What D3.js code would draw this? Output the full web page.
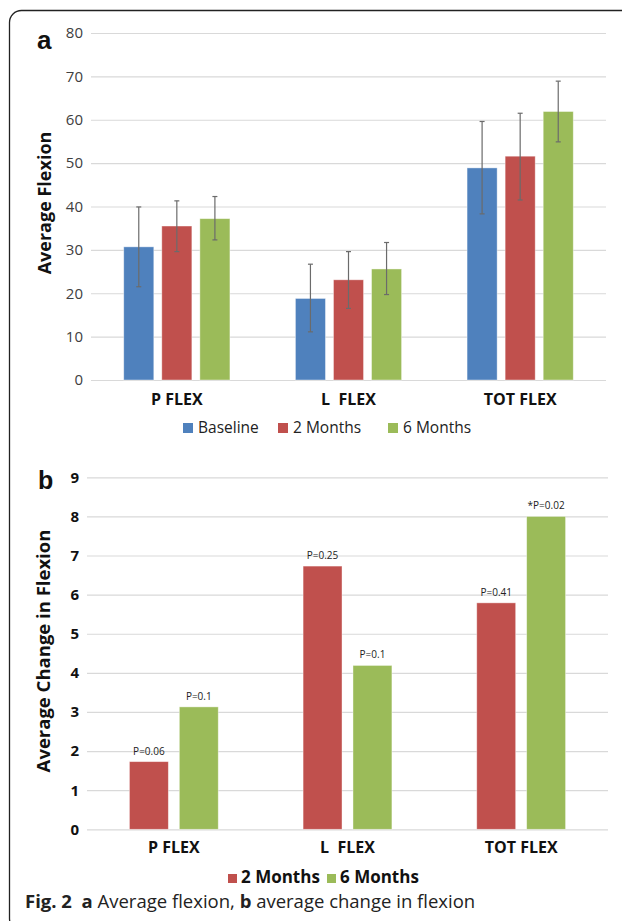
<!DOCTYPE html>
<html><head><meta charset="utf-8">
<script src="https://cdn.jsdelivr.net/npm/d3@7"></script>
<style>body{margin:0;background:#fff}svg{display:block}</style>
</head><body>
<svg id="c" width="622" height="921"></svg>
<script>
const categories = ["P FLEX", "L  FLEX", "TOT FLEX"];
const seriesA = ["Baseline", "2 Months", "6 Months"];
const meanA = {
  "Baseline": [30.7, 18.8, 48.9],
  "2 Months": [35.5, 23.1, 51.6],
  "6 Months": [37.2, 25.6, 61.9]
};
const errLowA = {
  "Baseline": [21.5, 11.1, 38.3],
  "2 Months": [29.6, 16.5, 41.5],
  "6 Months": [32.3, 19.7, 54.9]
};
const errHighA = {
  "Baseline": [39.9, 26.7, 59.6],
  "2 Months": [41.3, 29.6, 61.5],
  "6 Months": [42.3, 31.7, 68.9]
};
const ticksA = [0, 10, 20, 30, 40, 50, 60, 70, 80];
const seriesB = ["2 Months", "6 Months"];
const changeB = {
  "2 Months": [1.73, 6.73, 5.79],
  "6 Months": [3.13, 4.19, 8.0]
};
const pLabelsB = {
  "2 Months": ["P=0.06", "P=0.25", "P=0.41"],
  "6 Months": ["P=0.1", "P=0.1", "*P=0.02"]
};
const ticksB = [0, 1, 2, 3, 4, 5, 6, 7, 8, 9];
const colors = {"Baseline": "#4F81BD", "2 Months": "#C0504D", "6 Months": "#9BBB59"};

const svg = d3.select("#c");
const F = "'Open Sans', sans-serif";

// frame
svg.append("rect").attr("x", 9.5).attr("y", 10.5).attr("width", 700).attr("height", 920)
  .attr("rx", 12).attr("fill", "none").attr("stroke", "#222").attr("stroke-width", 1.3);

// ---------- Chart a ----------
{
  const x = d3.scaleBand().domain(categories).range([91, 606]);
  const y = d3.scaleLinear().domain([0, 80]).range([380, 33]);
  const xs = d3.scaleBand().domain(seriesA).range([0, x.bandwidth()]).paddingInner(0.21).paddingOuter(0.86);
  const g = svg.append("g");
  const yAxis = d3.axisLeft(y).tickValues(ticksA).tickSize(-(606 - 91)).tickPadding(8);
  const ga = g.append("g").attr("transform", "translate(91,0)").call(yAxis);
  ga.select(".domain").remove();
  ga.selectAll(".tick line").attr("stroke", "#D9D9D9").attr("stroke-width", 1.2);
  ga.selectAll(".tick text").attr("font-family", F).attr("font-size", 15).attr("fill", "#404040");

  seriesA.forEach(s => {
    categories.forEach((c, i) => {
      const bx = x(c) + xs(s);
      g.append("rect").attr("x", bx).attr("y", y(meanA[s][i]))
        .attr("width", xs.bandwidth()).attr("height", y(0) - y(meanA[s][i]))
        .attr("fill", colors[s]).attr("stroke", "#fff").attr("stroke-opacity", 0.5).attr("stroke-width", 0.8);
    });
  });
  seriesA.forEach(s => {
    categories.forEach((c, i) => {
      const cx = x(c) + xs(s) + xs.bandwidth() / 2;
      const eg = g.append("g").attr("stroke", "#6b6b6b").attr("stroke-width", 1.2);
      eg.append("line").attr("x1", cx).attr("x2", cx).attr("y1", y(errLowA[s][i])).attr("y2", y(errHighA[s][i]));
      [errLowA[s][i], errHighA[s][i]].forEach(v =>
        eg.append("line").attr("x1", cx - 2.5).attr("x2", cx + 2.5).attr("y1", y(v)).attr("y2", y(v)));
    });
  });
  categories.forEach(c => {
    g.append("text").attr("x", x(c) + x.bandwidth() / 2).attr("y", 405).attr("text-anchor", "middle")
      .attr("font-family", F).attr("font-weight", "bold").attr("font-size", 16).attr("fill", "#111")
      .attr("xml:space", "preserve").style("white-space", "pre").text(c);
  });
  // legend
  const lx = [183, 278, 388];
  seriesA.forEach((s, i) => {
    g.append("rect").attr("x", lx[i]).attr("y", 423).attr("width", 10).attr("height", 10).attr("fill", colors[s]);
    g.append("text").attr("x", lx[i] + 15).attr("y", 433).attr("font-family", F).attr("font-size", 15.5)
      .attr("fill", "#222").text(s);
  });
  g.append("text").attr("transform", "translate(51,203) rotate(-90)").attr("text-anchor", "middle")
    .attr("font-family", F).attr("font-weight", "bold").attr("font-size", 18).attr("fill", "#111").text("Average Flexion");
  g.append("text").attr("x", 37).attr("y", 49).attr("font-family", "'Liberation Sans', Arial, sans-serif")
    .attr("font-weight", "bold").attr("font-size", 26).attr("fill", "#111").text("a");
}

// ---------- Chart b ----------
{
  const x = d3.scaleBand().domain(categories).range([87, 608]);
  const y = d3.scaleLinear().domain([0, 9]).range([829.3, 477.3]);
  const xs = d3.scaleBand().domain(seriesB).range([0, x.bandwidth()]).paddingInner(0.22).paddingOuter(0.85);
  const g = svg.append("g");
  const yAxis = d3.axisLeft(y).tickValues(ticksB).tickSize(-(608 - 87)).tickPadding(8);
  const ga = g.append("g").attr("transform", "translate(87,0)").call(yAxis);
  ga.select(".domain").remove();
  ga.selectAll(".tick line").attr("stroke", "#D9D9D9").attr("stroke-width", 1.2);
  ga.selectAll(".tick text").attr("font-family", F).attr("font-weight", "bold").attr("font-size", 15).attr("fill", "#111");

  seriesB.forEach(s => {
    categories.forEach((c, i) => {
      const bx = x(c) + xs(s);
      g.append("rect").attr("x", bx).attr("y", y(changeB[s][i]))
        .attr("width", xs.bandwidth()).attr("height", y(0) - y(changeB[s][i]))
        .attr("fill", colors[s]).attr("stroke", "#fff").attr("stroke-opacity", 0.5).attr("stroke-width", 0.8);
      g.append("text").attr("x", bx + xs.bandwidth() / 2).attr("y", y(changeB[s][i]) - 7)
        .attr("text-anchor", "middle").attr("font-family", F).attr("font-size", 10).attr("fill", "#222")
        .text(pLabelsB[s][i]);
    });
  });
  categories.forEach(c => {
    g.append("text").attr("x", x(c) + x.bandwidth() / 2).attr("y", 853).attr("text-anchor", "middle")
      .attr("font-family", F).attr("font-weight", "bold").attr("font-size", 16).attr("fill", "#111")
      .attr("xml:space", "preserve").style("white-space", "pre").text(c);
  });
  const lx = [228, 327];
  seriesB.forEach((s, i) => {
    g.append("rect").attr("x", lx[i]).attr("y", 874).attr("width", 9).attr("height", 9).attr("fill", colors[s]);
    g.append("text").attr("x", lx[i] + 13).attr("y", 883).attr("font-family", F).attr("font-weight", "bold")
      .attr("font-size", 17).attr("fill", "#111").text(s);
  });
  g.append("text").attr("transform", "translate(50,651) rotate(-90)").attr("text-anchor", "middle")
    .attr("font-family", F).attr("font-weight", "bold").attr("font-size", 18.5).attr("fill", "#111").text("Average Change in Flexion");
  g.append("text").attr("x", 38).attr("y", 489).attr("font-family", "'Liberation Sans', Arial, sans-serif")
    .attr("font-weight", "bold").attr("font-size", 25).attr("fill", "#111").text("b");
}

// caption
const cap = svg.append("text").attr("x", 25).attr("y", 908).attr("font-family", F).attr("font-size", 18.5)
  .attr("fill", "#222").attr("xml:space", "preserve").style("white-space", "pre");
cap.append("tspan").attr("font-weight", "bold").text("Fig. 2  a");
cap.append("tspan").text(" Average flexion, ");
cap.append("tspan").attr("font-weight", "bold").text("b");
cap.append("tspan").text(" average change in flexion");
</script>
</body></html>
